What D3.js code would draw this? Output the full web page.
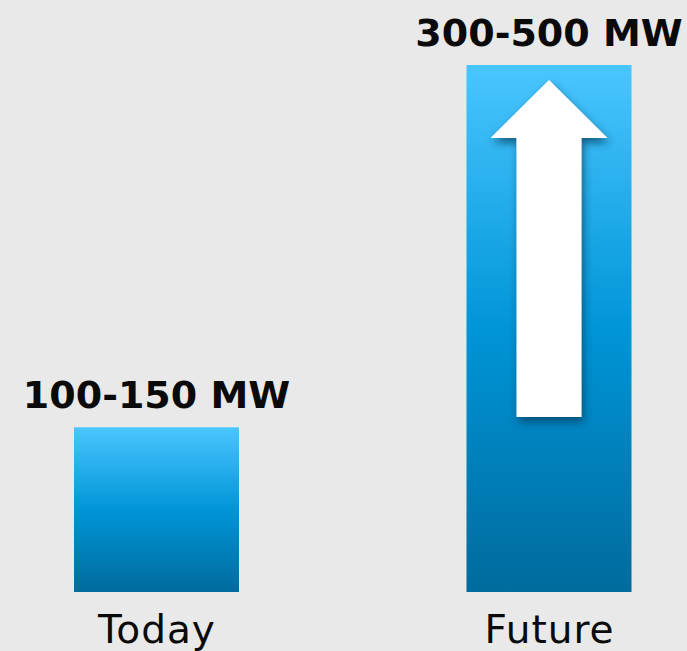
<!DOCTYPE html>
<html>
<head>
<meta charset="utf-8">
<script src="https://cdn.jsdelivr.net/npm/d3@7"></script>
<style>
  html, body { margin: 0; padding: 0; background: #e8e9e8; }
  svg { display: block; }
</style>
</head>
<body>
<div id="chart"></div>
<script>
// Данные
const categories = ["Today", "Future"];
const rangeLabels = ["100-150 MW", "300-500 MW"];
const midValues = [125, 400]; // середина диапазона, MW

const width = 687, height = 651;

const svg = d3.select("#chart").append("svg")
    .attr("width", width)
    .attr("height", height);

const defs = svg.append("defs");

// Градиент столбцов
const grad = defs.append("linearGradient")
    .attr("id", "barGrad")
    .attr("x1", 0).attr("y1", 0).attr("x2", 0).attr("y2", 1);
grad.append("stop").attr("offset", "0%").attr("stop-color", "#4ac6ff");
grad.append("stop").attr("offset", "50%").attr("stop-color", "#0095d8");
grad.append("stop").attr("offset", "100%").attr("stop-color", "#006b9d");

// Тень стрелки
const shadow = defs.append("filter")
    .attr("id", "arrowShadow")
    .attr("x", "-30%").attr("y", "-20%").attr("width", "160%").attr("height", "140%");
shadow.append("feDropShadow")
    .attr("dx", 2).attr("dy", 5)
    .attr("stdDeviation", 4)
    .attr("flood-color", "#00304d")
    .attr("flood-opacity", 0.65);

// Шкалы
const x = d3.scalePoint()
    .domain(categories)
    .range([156.5, 549]);
const barWidth = 165;

const y = d3.scaleLinear()
    .domain([0, 400])
    .range([592, 65]);

// Столбцы
svg.selectAll("rect.bar")
    .data(categories)
    .enter().append("rect")
    .attr("class", "bar")
    .attr("x", d => x(d) - barWidth / 2)
    .attr("y", (d, i) => y(midValues[i]))
    .attr("width", barWidth)
    .attr("height", (d, i) => y(0) - y(midValues[i]))
    .style("fill", "url(#barGrad)");

// Подписи значений
svg.selectAll("text.value")
    .data(categories)
    .enter().append("text")
    .attr("class", "value")
    .attr("x", d => x(d))
    .attr("y", (d, i) => y(midValues[i]) - 19)
    .attr("text-anchor", "middle")
    .style("font-family", "'DejaVu Sans', Verdana, sans-serif")
    .style("font-weight", "bold")
    .style("font-size", "38px")
    .style("fill", "#0a0a0a")
    .text((d, i) => rangeLabels[i]);

// Подписи категорий
svg.selectAll("text.cat")
    .data(categories)
    .enter().append("text")
    .attr("class", "cat")
    .attr("x", d => x(d) + 0.5)
    .attr("y", 643)
    .attr("text-anchor", "middle")
    .style("font-family", "'DejaVu Sans', Verdana, sans-serif")
    .style("font-size", "39px")
    .style("letter-spacing", "1px")
    .style("fill", "#0a0a0a")
    .text(d => d);

// Стрелка роста внутри второго столбца
const cx = x("Future");
const barTop = y(midValues[1]);
const tipY = barTop + 15;
const headY = barTop + 73;
const tailY = barTop + 352;
const headHalf = 58.5, shaftHalf = 32.5;

const arrow = d3.path();
arrow.moveTo(cx, tipY);
arrow.lineTo(cx + headHalf, headY);
arrow.lineTo(cx + shaftHalf, headY);
arrow.lineTo(cx + shaftHalf, tailY);
arrow.lineTo(cx - shaftHalf, tailY);
arrow.lineTo(cx - shaftHalf, headY);
arrow.lineTo(cx - headHalf, headY);
arrow.closePath();

svg.append("path")
    .attr("d", arrow.toString())
    .style("fill", "#ffffff")
    .attr("filter", "url(#arrowShadow)");
</script>
</body>
</html>
